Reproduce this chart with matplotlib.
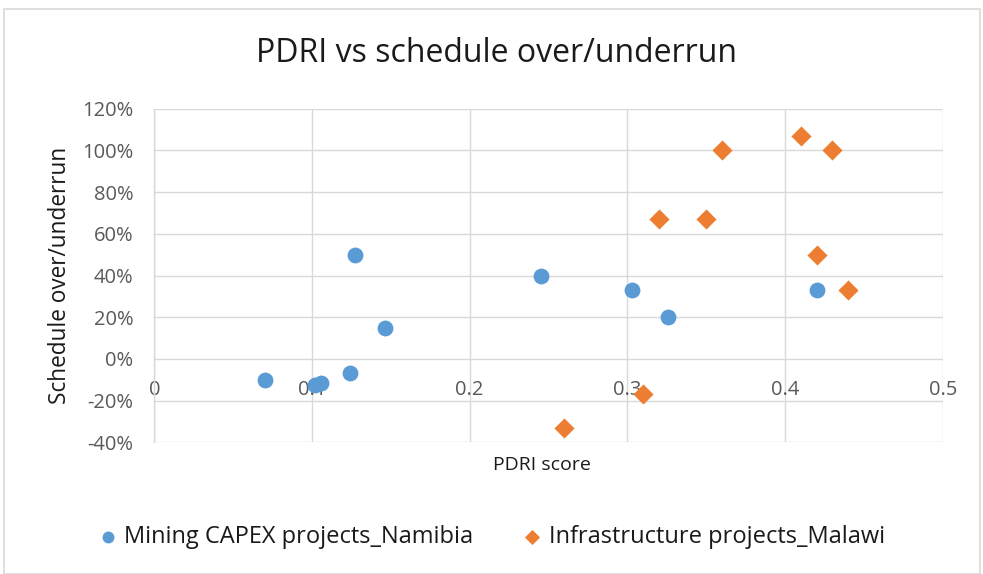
import numpy as np
import matplotlib
matplotlib.use("Agg")
import matplotlib.pyplot as plt
import matplotlib.ticker as ticker
from matplotlib.patches import Rectangle

plt.rcParams['font.family'] = ['Open Sans', 'DejaVu Sans']

# data
namibia_x = [0.070, 0.102, 0.106, 0.124, 0.127, 0.146, 0.245, 0.303, 0.326, 0.420]
namibia_y = [-0.10, -0.125, -0.117, -0.066, 0.50, 0.15, 0.40, 0.33, 0.20, 0.33]
malawi_x = [0.26, 0.31, 0.32, 0.35, 0.36, 0.41, 0.43, 0.42, 0.44]
malawi_y = [-0.33, -0.17, 0.67, 0.67, 1.00, 1.07, 1.00, 0.50, 0.33]

x_ticks = [0, 0.1, 0.2, 0.3, 0.4, 0.5]
x_ticklabels = ['0', '0.1', '0.2', '0.3', '0.4', '0.5']
y_ticks = [-0.4, -0.2, 0, 0.2, 0.4, 0.6, 0.8, 1.0, 1.2]

blue = '#5B9BD5'
orange = '#ED7D31'
grid = '#D9D9D9'
tick_col = '#595959'

fig = plt.figure(figsize=(9.83, 5.74), dpi=100)
ax = fig.add_axes([0.157, 0.2293, 0.802, 0.5812])

ax.scatter(namibia_x, namibia_y, s=130, marker='o', color=blue,
           label='Mining CAPEX projects_Namibia', zorder=3, linewidths=0)
ax.scatter(malawi_x, malawi_y, s=105, marker='D', color=orange,
           label='Infrastructure projects_Malawi', zorder=3, linewidths=0)

ax.set_xlim(0, 0.5)
ax.set_ylim(-0.4, 1.2)
ax.set_xticks(x_ticks)
ax.set_xticklabels(x_ticklabels)
ax.set_yticks(y_ticks)
ax.yaxis.set_major_formatter(ticker.FuncFormatter(lambda v, p: '%d%%' % round(v * 100)))

ax.grid(True, color=grid, linewidth=1.0, zorder=0)
ax.set_axisbelow(True)
for s in ['top', 'right']:
    ax.spines[s].set_visible(False)
ax.spines['bottom'].set_position(('data', 0))
ax.spines['bottom'].set_visible(False)
ax.spines['left'].set_color(grid)
ax.spines['left'].set_linewidth(1.0)
ax.tick_params(axis='x', length=0, pad=15, labelsize=14.5, labelcolor=tick_col)
ax.tick_params(axis='y', length=0, pad=15, labelsize=14.5, labelcolor=tick_col)

fig.text(0.505, 0.907, 'PDRI vs schedule over/underrun', ha='center', va='center',
         fontsize=23, color='#1a1a1a')
fig.text(0.551, 0.19, 'PDRI score', ha='center', va='center', fontsize=14, color='#1a1a1a')
fig.text(0.061, 0.52, 'Schedule over/underrun', ha='center', va='center',
         rotation=90, fontsize=16.3, color='#1a1a1a')

leg = fig.legend(loc='center', bbox_to_anchor=(0.5, 0.0645), ncol=2, frameon=False,
                 fontsize=17, handlelength=0.8, handletextpad=0.3, columnspacing=2.1,
                 markerscale=0.75)
for t in leg.get_texts():
    t.set_color('#1a1a1a')

fig.patches.append(Rectangle((0.004, 0.0), 0.993, 0.985, transform=fig.transFigure,
                             fill=False, edgecolor='#D9D9D9', linewidth=1.2))

fig.savefig('out.png', dpi=100)
